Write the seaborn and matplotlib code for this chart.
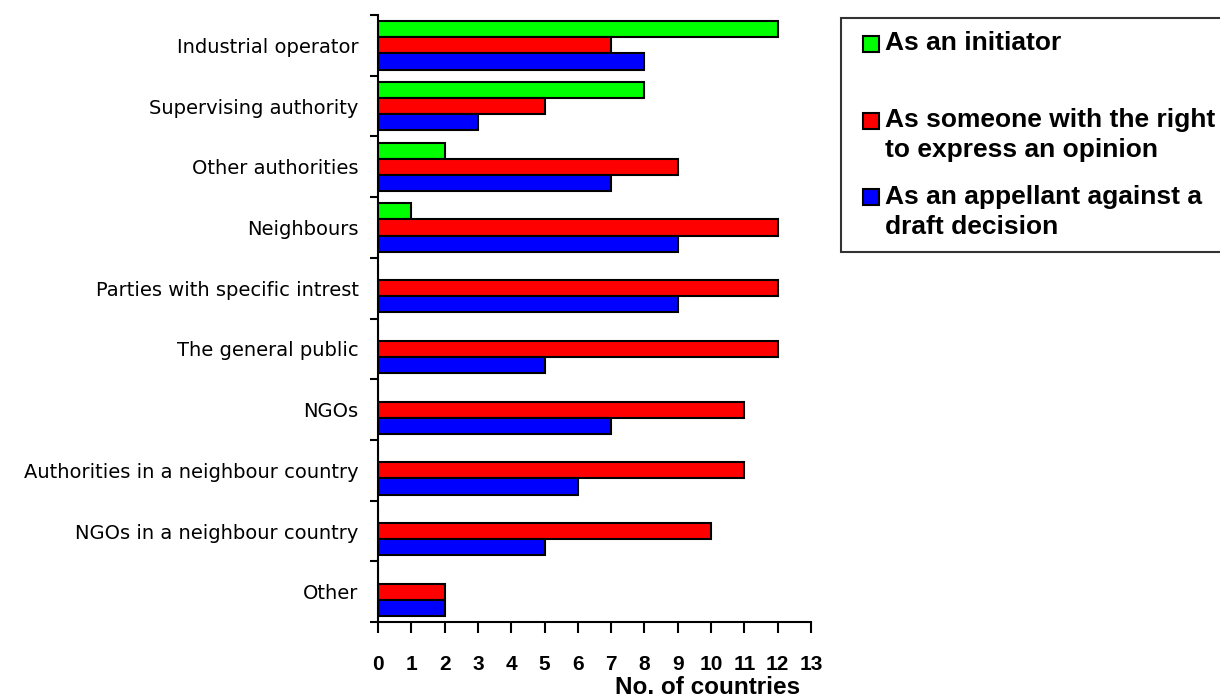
import numpy as np
import pandas as pd
import seaborn as sns
from matplotlib import pyplot as plt
from matplotlib.patches import Rectangle
from matplotlib.legend_handler import HandlerPatch

categories = ['Industrial operator', 'Supervising authority', 'Other authorities',
              'Neighbours', 'Parties with specific intrest', 'The general public',
              'NGOs', 'Authorities in a neighbour country',
              'NGOs in a neighbour country', 'Other']
initiator = [12, 8, 2, 1, 0, 0, 0, 0, 0, 0]
opinion = [7, 5, 9, 12, 12, 12, 11, 11, 10, 2]
appellant = [8, 3, 7, 9, 9, 5, 7, 6, 5, 2]
series_names = ['As an initiator',
                'As someone with the right\nto express an opinion',
                'As an appellant against a\ndraft decision']
colors = ['#00ff00', '#ff0000', '#0000ff']

df = pd.DataFrame({
    'category': categories * 3,
    'role': np.repeat(series_names, len(categories)),
    'count': initiator + opinion + appellant,
})

sns.set_style('white')
plt.rcParams['font.family'] = ['Liberation Sans', 'DejaVu Sans']
plt.rcParams['text.color'] = 'black'
plt.rcParams['xtick.color'] = 'black'
plt.rcParams['ytick.color'] = 'black'
plt.rcParams['axes.labelcolor'] = 'black'

fig = plt.figure(figsize=(12.2, 6.99), dpi=100)
ax = fig.add_axes([0.3098, 0.110, 0.355, 0.8685])

sns.barplot(data=df, y='category', x='count', hue='role', order=categories,
            hue_order=series_names, palette=colors, saturation=1, orient='h',
            width=0.8, edgecolor='black', linewidth=1.5, ax=ax)

ax.set_xlim(0, 13)
ax.set_ylim(len(categories) - 0.5, -0.5)
ax.set_xticks(range(14))
ax.set_xticklabels([str(i) for i in range(14)], fontsize=15, fontweight='bold')
ax.tick_params(axis='x', direction='out', length=8, width=1.5, pad=16, bottom=True)

ax.set_yticks(range(len(categories)))
ax.set_yticklabels(categories, fontsize=14, family='DejaVu Sans')
ax.tick_params(axis='y', which='major', length=0, pad=14)
ax.set_yticks(np.arange(-0.5, len(categories)), minor=True)
ax.tick_params(axis='y', which='minor', direction='out', length=6, width=1.5, left=True)

for side in ['top', 'right']:
    ax.spines[side].set_visible(False)
for side in ['left', 'bottom']:
    ax.spines[side].set_linewidth(1.5)
    ax.spines[side].set_color('black')

ax.set_ylabel('')
ax.set_xlabel('No. of countries', fontsize=17.5, fontweight='bold')
ax.xaxis.set_label_coords(0.76, -0.089)

# legend: square handle next to the first line of each label
leg_size = 19
line_gap = 1.33


def top_square(legend, orig_handle, xdescent, ydescent, width, height, fontsize):
    side = 0.6 * fontsize
    return Rectangle((-xdescent + width - side, -ydescent + 0.57 * fontsize), side, side)


def copy_style(tgt, src):
    first = src.patches[0] if hasattr(src, 'patches') else src
    tgt.set_facecolor(first.get_facecolor())
    tgt.set_edgecolor('black')
    tgt.set_linewidth(1.5)


ax.get_legend().remove()
handles, labels = ax.get_legend_handles_labels()
labels = [lab if '\n' in lab else lab + '\n ' for lab in labels]
handler = HandlerPatch(patch_func=top_square, update_func=copy_style)
leg = fig.legend(handles, labels, loc='upper left', bbox_to_anchor=(0.6893, 0.9742),
                 borderaxespad=0, frameon=True, fancybox=False, edgecolor='black',
                 prop={'size': leg_size, 'weight': 'bold'}, handlelength=0.95,
                 handleheight=0.6, handletextpad=0.22, labelspacing=0.85,
                 borderpad=0.5, handler_map={type(h): handler for h in handles})
for t in leg.get_texts():
    t.set_linespacing(line_gap)
leg.get_frame().set_linewidth(1.5)

fig.savefig('out.png', dpi=100)
